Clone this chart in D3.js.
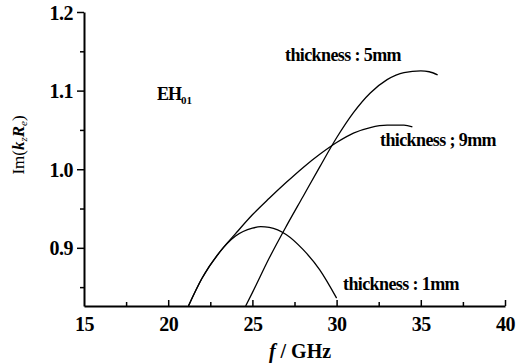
<!DOCTYPE html>
<html>
<head>
  <meta charset="UTF-8">
  <script src="https://d3js.org/d3.v7.min.js"></script>
  <style>
    body { margin: 0; background: #fff; }
    svg { display: block; }
    text { font-family: "Liberation Serif", "Times New Roman", serif; fill: #000; }
    .tick-lbl { font-size: 20px; font-weight: bold; letter-spacing: -0.5px; }
    .note { font-size: 18px; font-weight: bold; letter-spacing: -0.6px; }
  </style>
</head>
<body>
<svg width="526" height="363"></svg>
<script>
  const xTicks = [15, 20, 25, 30, 35, 40];
  const yTicks = [0.9, 1.0, 1.1, 1.2];

  // thickness 1mm
  const f1 = [21.2, 22, 23, 24, 25, 25.5, 26, 27, 28, 29, 30];
  const v1 = [0.826, 0.861, 0.893, 0.915, 0.925, 0.927, 0.926, 0.917, 0.898, 0.872, 0.836];
  // thickness 5mm
  const f5 = [24.6, 25, 26, 27, 28, 29, 30, 31, 32, 33, 34, 35, 35.5, 36];
  const v5 = [0.826, 0.843, 0.887, 0.927, 0.965, 1.003, 1.040, 1.072, 1.097, 1.114, 1.123, 1.125, 1.124, 1.120];
  // thickness 9mm
  const f9 = [21.2, 22, 23, 24, 25, 26, 27, 28, 29, 30, 31, 32, 33, 34, 34.5];
  const v9 = [0.826, 0.861, 0.893, 0.918, 0.942, 0.963, 0.983, 1.002, 1.019, 1.034, 1.046, 1.053, 1.056, 1.056, 1.054];

  const svg = d3.select("svg");
  const x = d3.scaleLinear().domain([15, 40]).range([84, 505]);
  const y = d3.scaleLinear().domain([0.826, 1.2]).range([306, 12]);

  const line = d3.line()
    .x(d => x(d[0]))
    .y(d => y(d[1]))
    .curve(d3.curveMonotoneX);

  [[f1, v1], [f5, v5], [f9, v9]].forEach(([f, v]) => {
    svg.append("path")
      .attr("d", line(f.map((d, i) => [d, v[i]])))
      .attr("fill", "none")
      .attr("stroke", "#000")
      .attr("stroke-width", 1.3);
  });

  // x axis, ticks pointing inward
  const xAxis = svg.append("g").attr("transform", `translate(0,${y(0.826)})`);
  xAxis.call(d3.axisBottom(x).tickValues(d3.range(15, 40.1, 2.5)).tickSize(0).tickFormat(""));
  xAxis.select(".domain").attr("stroke-width", 2);
  xAxis.selectAll(".tick line")
    .attr("y2", d => (d % 5 === 0 && d !== 15) ? -6 : (d === 15 ? 0 : -4))
    .attr("stroke-width", 1.5);
  xAxis.selectAll(".tick")
    .filter(d => xTicks.includes(d))
    .append("text")
    .attr("class", "tick-lbl")
    .attr("y", 25)
    .attr("text-anchor", "middle")
    .text(d => d);

  // y axis, ticks outward
  const yAxis = svg.append("g").attr("transform", `translate(${x(15)},0)`);
  yAxis.call(d3.axisLeft(y).tickValues([0.85, 0.9, 0.95, 1.0, 1.05, 1.1, 1.15, 1.2]).tickSize(0).tickFormat(""));
  yAxis.select(".domain").attr("stroke-width", 2);
  yAxis.selectAll(".tick line")
    .attr("x2", d => yTicks.some(t => Math.abs(t - d) < 1e-9) ? -7 : -4)
    .attr("stroke-width", 1.5);
  yAxis.selectAll(".tick")
    .filter(d => yTicks.some(t => Math.abs(t - d) < 1e-9))
    .append("text")
    .attr("class", "tick-lbl")
    .attr("x", -11)
    .attr("dy", "0.35em")
    .attr("text-anchor", "end")
    .text(d => d.toFixed(1));

  // axis titles
  const yl = svg.append("text")
    .attr("transform", "translate(24,145) rotate(-90)")
    .attr("text-anchor", "middle")
    .style("font-size", "17px");
  yl.append("tspan").text("Im(");
  yl.append("tspan").style("font-style", "italic").style("font-weight", "bold").text("k");
  yl.append("tspan").attr("dy", 3).style("font-size", "11px").style("font-style", "italic").text("z");
  yl.append("tspan").attr("dy", -3).style("font-style", "italic").style("font-weight", "bold").text("R");
  yl.append("tspan").attr("dy", 3).style("font-size", "11px").style("font-style", "italic").text("e");
  yl.append("tspan").attr("dy", -3).text(")");

  const xl = svg.append("text")
    .attr("x", 300).attr("y", 358)
    .attr("text-anchor", "middle")
    .style("font-size", "20px").style("font-weight", "bold");
  xl.append("tspan").style("font-style", "italic").text("f");
  xl.append("tspan").text(" / GHz");

  // annotations
  const eh = svg.append("text").attr("x", 157).attr("y", 100).attr("class", "note").style("letter-spacing", "-1px");
  eh.append("tspan").text("EH");
  eh.append("tspan").attr("dy", 4).style("font-size", "11px").style("letter-spacing", "0px").text("01");

  svg.append("text").attr("class", "note").attr("x", 285).attr("y", 61).text("thickness : 5mm");
  svg.append("text").attr("class", "note").attr("x", 380).attr("y", 146).text("thickness ; 9mm");
  svg.append("text").attr("class", "note").attr("x", 343).attr("y", 290).text("thickness : 1mm");
</script>
</body>
</html>
